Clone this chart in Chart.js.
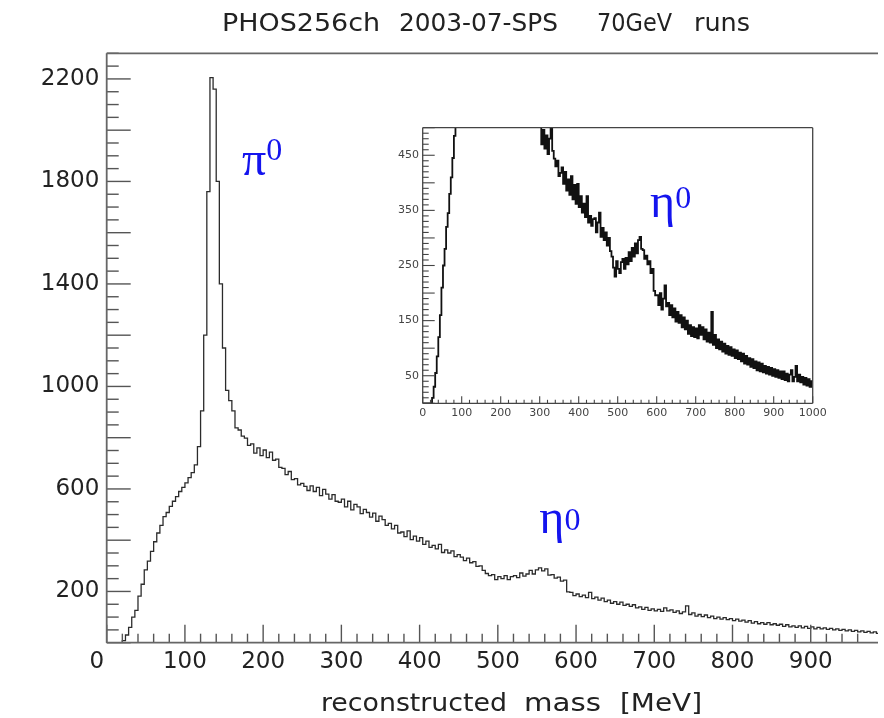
<!DOCTYPE html>
<html><head><meta charset="utf-8">
<script src="https://cdn.jsdelivr.net/npm/chart.js@4.4.1/dist/chart.umd.min.js"></script>
<style>
html,body{margin:0;padding:0;background:#fff;}
#wrap{position:relative;width:884px;height:718px;overflow:hidden;background:#fff;}
#main{position:absolute;left:0;top:0;}
#inset{position:absolute;left:370px;top:115px;}
</style></head><body>
<div id="wrap"><canvas id="main" width="884" height="718"></canvas><canvas id="inset" width="460" height="310"></canvas></div>
<script>
// ---- data (histogram bin width in MeV, counts per bin starting at 0 MeV) ----
const BIN_WIDTH = 4;
const mainCounts = [
0,0,0,0,0,8,30,60,100,126,
182,228,284,318,356,394,428,458,492,508,
532,552,570,590,606,624,644,664,694,765,
905,1200,1760,2205,2160,1800,1400,1150,985,945,
905,838,830,806,798,770,776,740,760,730,
752,722,744,712,716,684,680,656,668,636,
640,616,622,610,594,612,590,606,574,598,
580,560,578,552,548,560,530,552,518,540,
530,504,520,508,490,506,474,494,480,458,
466,444,458,428,432,414,436,402,416,396,
410,384,396,372,380,366,384,352,362,350,
358,336,344,334,320,330,312,316,298,300,
282,270,262,266,246,258,250,262,246,258,
262,254,272,260,268,282,268,284,292,280,
288,264,266,252,256,240,244,198,196,184,
190,180,186,176,196,172,178,166,174,160,
166,154,160,150,158,146,150,142,148,136,
140,130,138,126,132,124,130,122,136,124,
128,118,124,114,120,144,110,116,104,110,
102,108,98,104,94,100,92,98,90,94,
86,92,84,88,80,86,76,82,74,78,
72,78,70,74,68,72,64,70,62,66,
60,66,58,64,56,62,54,60,54,58,
52,56,50,54,48,52,46,50,44,48,
42,46,40,44,38,42,36,40,34,38
];
const insetCounts = [
0,0,0,0,0,0,10,30,55,85,
120,160,210,250,280,320,345,380,410,445,
485,530,560,580,600,620,640,660,690,760,
900,1180,1700,2150,2100,1760,1370,1120,960,910,
880,820,800,780,770,750,730,710,700,690,
680,670,660,650,640,630,620,610,600,592,
584,576,568,560,554,548,542,536,530,526,
520,516,512,508,504,505,470,496,462,486,
452,480,505,458,444,430,440,412,418,428,
398,420,386,406,378,412,370,396,362,398,
356,376,346,362,338,376,328,340,322,334,
336,310,328,346,302,318,296,310,286,300,
276,266,246,230,258,244,236,256,262,244,
264,252,274,258,282,266,290,272,296,302,
280,278,262,268,252,258,236,244,204,196,
196,178,200,170,190,214,176,182,160,178,
156,172,148,166,146,160,138,156,134,150,
126,142,122,138,120,136,118,142,124,138,
116,134,112,128,110,166,106,124,100,116,
98,112,94,108,90,104,88,102,86,98,
82,96,80,92,76,90,72,86,70,82,
66,80,64,76,60,74,58,72,56,68,
54,66,52,64,50,62,48,60,46,58,
44,58,42,54,40,52,60,40,48,68,
40,52,38,48,34,46,32,44,30,40
];
const mainXLabels = [0,100,200,300,400,500,600,700,800,900];
const mainYLabels = [200,600,1000,1400,1800,2200];
const insetXLabels = [0,100,200,300,400,500,600,700,800,900,1000];
const insetYLabels = [50,150,250,350,450];
const titleWords = ["PHOS256ch","2003-07-SPS","70GeV","runs"];
const axisTitleWords = ["reconstructed","mass","[MeV]"];

// histogram points: bin low edges + closing edge
function histPoints(counts){
  const pts = counts.map((c,i)=>({x:i*BIN_WIDTH, y:c}));
  pts.push({x:counts.length*BIN_WIDTH, y:counts[counts.length-1]});
  return pts;
}

function drawFitted(ctx, text, left, right, baseline, font, color){
  ctx.save();
  ctx.font = font;
  const w = ctx.measureText(text).width;
  ctx.translate(left, baseline);
  ctx.scale((right-left)/w, 1);
  ctx.fillStyle = color; ctx.textAlign='left'; ctx.textBaseline='alphabetic';
  ctx.fillText(text, 0, 0);
  ctx.restore();
}

const decor = {
  id: 'decor',
  afterDraw(chart, args, o){
    const ctx = chart.ctx, a = chart.chartArea, xs = chart.scales.x, ys = chart.scales.y;
    ctx.save();
    const seg=(x1,y1,x2,y2)=>{ctx.beginPath();ctx.moveTo(x1,y1);ctx.lineTo(x2,y2);ctx.stroke();};
    ctx.strokeStyle = o.tickColor; ctx.lineWidth = o.tickWidth;
    xs.ticks.forEach(t=>{
      const v=t.value; if (v % o.xMinor !== 0) return;
      const p = xs.getPixelForValue(v);
      const L = (v % o.xMajor === 0) ? o.xMajorLen : o.xMinorLen;
      seg(p, a.bottom, p, a.bottom-L);
    });
    ys.ticks.forEach(t=>{
      const v=t.value; if (v % o.yMinor !== 0) return;
      const p = ys.getPixelForValue(v);
      const L = (v % o.yMajor === 0) ? o.yMajorLen : o.yMinorLen;
      seg(a.left, p, a.left+L, p);
    });
    ctx.strokeStyle = o.frameColor; ctx.lineWidth = o.frameWidth;
    if (o.frame.includes('left')) seg(a.left, a.top, a.left, a.bottom);
    if (o.frame.includes('bottom')) seg(a.left, a.bottom, a.right, a.bottom);
    if (o.frame.includes('top')) seg(a.left, a.top, a.right, a.top);
    if (o.frame.includes('right')) seg(a.right, a.top, a.right, a.bottom);
    (o.greek||[]).forEach(g=>{
      const px = xs.getPixelForValue(g.x), py = ys.getPixelForValue(g.y);
      ctx.fillStyle = o.greekColor; ctx.textAlign='left'; ctx.textBaseline='alphabetic';
      ctx.font = g.size+'px "Liberation Serif","DejaVu Serif",serif';
      ctx.fillText(g.text, px, py);
      const w = ctx.measureText(g.text).width;
      ctx.font = g.supSize+'px "Liberation Serif","DejaVu Serif",serif';
      ctx.fillText(g.sup, px+w+g.supDx, py-g.supRise);
    });
    (o.texts||[]).forEach(t=>drawFitted(ctx, t.text, t.left, t.right, t.baseline, t.font, t.color));
    if (o.zeroLabel){
      const z=o.zeroLabel;
      ctx.font = z.font; ctx.fillStyle = z.color; ctx.textAlign='center'; ctx.textBaseline='middle';
      ctx.fillText(z.text, xs.getPixelForValue(z.value)+z.dx, a.bottom+z.dy);
    }
    ctx.restore();
  }
};

const TITLE_FONT = '25px "DejaVu Sans Condensed","Liberation Sans Narrow","DejaVu Sans",sans-serif';
const AXIS_FONT = '24px "DejaVu Sans Condensed","Liberation Sans Narrow","DejaVu Sans",sans-serif';
const TICK_FONT = {family:'DejaVu Sans', size:23};

new Chart(document.getElementById('main'), {
  type:'line',
  data:{datasets:[{data:histPoints(mainCounts), stepped:'before', borderColor:'#2b2b2b', borderWidth:1.3, pointRadius:0, fill:false}]},
  options:{
    responsive:false, animation:false, devicePixelRatio:1,
    layout:{padding:{top:53.3,right:0,left:0,bottom:0}},
    plugins:{
      legend:{display:false}, tooltip:{enabled:false},
      decor:{
        tickColor:'#555', tickWidth:1.4, frameColor:'#666', frameWidth:1.8,
        xMinor:20, xMajor:100, xMajorLen:18, xMinorLen:9,
        yMinor:50, yMajor:200, yMajorLen:24, yMinorLen:12,
        frame:['left','bottom','top'],
        greekColor:'#1414ee',
        greek:[
          {text:'π', sup:'0', x:173, y:1825, size:48, supSize:32, supDx:0, supRise:15},
          {text:'η', sup:'0', x:553, y:428, size:48, supSize:32, supDx:0, supRise:3}
        ],
        texts:[
          {text:titleWords[0], left:222, right:380, baseline:30.7, font:TITLE_FONT, color:'#222'},
          {text:titleWords[1], left:399, right:558, baseline:30.7, font:TITLE_FONT, color:'#222'},
          {text:titleWords[2], left:597, right:672, baseline:30.7, font:TITLE_FONT, color:'#222'},
          {text:titleWords[3], left:694, right:750, baseline:30.7, font:TITLE_FONT, color:'#222'},
          {text:axisTitleWords[0], left:321, right:507, baseline:711, font:AXIS_FONT, color:'#222'},
          {text:axisTitleWords[1], left:524, right:601, baseline:711, font:AXIS_FONT, color:'#222'},
          {text:axisTitleWords[2], left:620, right:702, baseline:711, font:AXIS_FONT, color:'#222'}
        ],
        zeroLabel:{text:String(mainXLabels[0]), value:0, dx:-10, dy:19.8, font:'23px "DejaVu Sans"', color:'#222'}
      }
    },
    scales:{
      x:{type:'linear', min:0, max:986,
        afterFit:s=>{s.height=75.3;},
        grid:{display:false, drawTicks:false}, border:{display:false},
        ticks:{stepSize:20, autoSkip:false, maxRotation:0, minRotation:0, padding:6, font:TICK_FONT, color:'#222',
          callback:v=>(v!==0 && mainXLabels.includes(v)) ? String(v) : ''}
      },
      y:{type:'linear', min:0, max:2300,
        afterFit:s=>{s.width=106.7;},
        grid:{display:false, drawTicks:false}, border:{display:false},
        ticks:{stepSize:50, autoSkip:false, padding:7.4, font:TICK_FONT, color:'#222',
          callback:v=>mainYLabels.includes(v) ? String(v) : ''}
      }
    }
  },
  plugins:[decor]
});

const INSET_TICK_FONT = {family:'DejaVu Sans', size:11};
new Chart(document.getElementById('inset'), {
  type:'line',
  data:{datasets:[{data:histPoints(insetCounts), stepped:'before', borderColor:'#111', borderWidth:1.8, pointRadius:0, fill:false}]},
  options:{
    responsive:false, animation:false, devicePixelRatio:1,
    layout:{padding:{top:12.7,right:17.3,left:0,bottom:0}},
    plugins:{
      legend:{display:false}, tooltip:{enabled:false},
      decor:{
        tickColor:'#444', tickWidth:1.1, frameColor:'#444', frameWidth:1.3,
        xMinor:20, xMajor:100, xMajorLen:7, xMinorLen:3.5,
        yMinor:10, yMajor:50, yMajorLen:12, yMinorLen:6,
        frame:['left','bottom','top','right'],
        greekColor:'#1414ee',
        greek:[{text:'η', sup:'0', x:583, y:338, size:48, supSize:32, supDx:0, supRise:9}]
      }
    },
    scales:{
      x:{type:'linear', min:0, max:1000,
        afterFit:s=>{s.height=21.7;},
        grid:{display:false, drawTicks:false}, border:{display:false},
        ticks:{stepSize:20, autoSkip:false, maxRotation:0, minRotation:0, padding:2.8, font:INSET_TICK_FONT, color:'#444',
          callback:v=>insetXLabels.includes(v) ? String(v) : ''}
      },
      y:{type:'linear', min:0, max:500,
        afterFit:s=>{s.width=52.7;},
        grid:{display:false, drawTicks:false}, border:{display:false},
        ticks:{stepSize:10, autoSkip:false, padding:3.7, font:INSET_TICK_FONT, color:'#444',
          callback:v=>insetYLabels.includes(v) ? String(v) : ''}
      }
    }
  },
  plugins:[decor]
});
</script>
</body></html>
